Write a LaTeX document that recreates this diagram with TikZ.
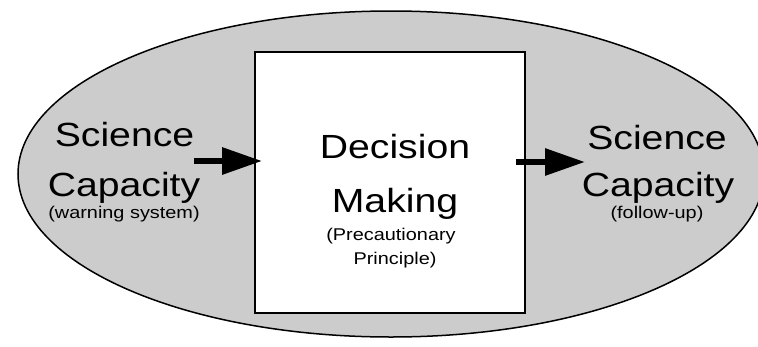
\documentclass[tikz,border=0pt]{standalone}
\usepackage{fontspec}
\setmainfont{Liberation Sans}
\usetikzlibrary{arrows.meta}
\tikzset{
  big/.style={anchor=base, inner sep=0pt, font=\fontsize{33.5}{40}\selectfont},
  small/.style={anchor=base, inner sep=0pt, font=\fontsize{17}{20}\selectfont},
  arr/.style={line width=6pt, -{Triangle[length=40pt,width=26pt]}},
}
\newcommand{\hs}[1]{\scalebox{1.17}[1]{#1}}
\begin{document}
\begin{tikzpicture}[x=1pt,y=-1pt]
\useasboundingbox (0,0) rectangle (758,346);
\fill[white] (0,0) rectangle (758,346);
\draw[line width=1.5pt, fill=black!20] (391,174) ellipse [x radius=373, y radius=163];
\node (dm) [draw, line width=1.8pt, fill=white, minimum width=270pt, minimum height=261pt, inner sep=0pt] at (390,182.5) {};
% left texts
\node[big] (l1) at (124.5,146) {\hs{Science}};
\node[big] (l2) at (124,196) {\hs{Capacity}};
\node[small] (l3) at (124,218) {\hs{(warning system)}};
% center texts
\node[big] (c1) at (395,158) {\hs{Decision}};
\node[big] (c2) at (395,212) {\hs{Making}};
\node[small] (c3) at (391,240) {\hs{(Precautionary}};
\node[small] (c4) at (395,264) {\hs{Principle)}};
% right texts
\node[big] (r1) at (657,149) {\hs{Science}};
\node[big] (r2) at (658,196) {\hs{Capacity}};
\node[small] (r3) at (657,218) {\hs{(follow-up)}};
% arrows
\coordinate (a1) at (194,161);
\coordinate (b2) at (585,162);
\draw[arr] (a1) -- ([xshift=8pt]dm.west |- a1);
\draw[arr] ([xshift=-10pt]dm.east |- b2) -- (b2);
\end{tikzpicture}
\end{document}
